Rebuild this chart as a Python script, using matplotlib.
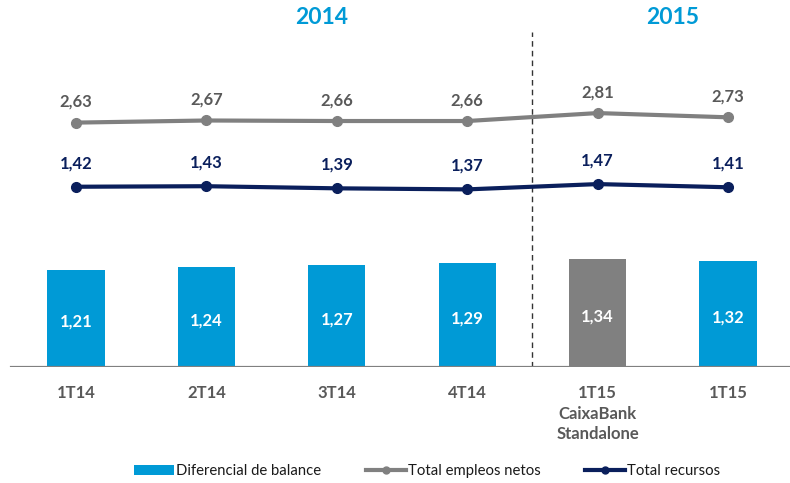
"""
Diferencial de balance vs total empleos netos / total recursos (2014-2015).
Produces: out.png
"""
import matplotlib.pyplot as plt
from matplotlib.patches import Patch
from matplotlib.lines import Line2D

plt.rcParams["font.family"] = ["Lato", "DejaVu Sans"]

# ── Data ─────────────────────────────────────────────────────────────────────
quarters   = ["1T14", "2T14", "3T14", "4T14", "1T15\nCaixaBank\nStandalone", "1T15"]
diferencial = [1.21, 1.24, 1.27, 1.29, 1.34, 1.32]
empleos     = [2.63, 2.67, 2.66, 2.66, 2.81, 2.73]
recursos    = [1.42, 1.43, 1.39, 1.37, 1.47, 1.41]
standalone  = 4   # index of the grey "CaixaBank Standalone" bar

C_BLUE  = "#009ad6"
C_GREY  = "#808080"
C_NAVY  = "#0a1f5c"
C_TEXT  = "#595959"

W, H = 790, 483
fig = plt.figure(figsize=(W / 100, H / 100), dpi=100)
fig.patch.set_facecolor("white")

# axis baseline sits at y=367 px (from the top)
ax = fig.add_axes([0, 1 - 367 / H, 1, 367 / H])
x = list(range(len(quarters)))
ax.set_xlim(-76 / 130.4, (W - 76) / 130.4)
ax.set_ylim(0, 367 / 80.5)

bar_colors = [C_GREY if i == standalone else C_BLUE for i in x]
ax.bar(x, diferencial, width=0.44, color=bar_colors, zorder=2)
for xi, v in zip(x, diferencial):
    ax.text(xi, v / 2 - 0.04, f"{v:.2f}".replace(".", ","), ha="center", va="center",
            fontsize=12, fontweight="bold", color="white", zorder=3)

ax.axhline(0, xmin=11 / W, color=C_GREY, linewidth=2.3, zorder=4)
ax.axvline(3.5, ymin=0, ymax=(367 - 32) / 367, color="#333333", linestyle=(0, (4, 3)),
           linewidth=1.0, zorder=1)

for xi, lab in zip(x, quarters):
    ax.annotate(lab, xy=(xi, 0), xytext=(0, -13), textcoords="offset points",
                ha="center", va="top", fontsize=12, fontweight="bold", color=C_TEXT,
                linespacing=1.35)

for s in ax.spines.values():
    s.set_visible(False)
ax.set_xticks([])
ax.set_yticks([])

# ── Lines on their own scale ─────────────────────────────────────────────────
ax2 = ax.twinx()
ax2.set_ylim(-105 / 53, 262 / 53)
ax2.plot(x, empleos, color=C_GREY, linewidth=3, marker="o", markersize=7, zorder=3)
ax2.plot(x, recursos, color=C_NAVY, linewidth=3, marker="o", markersize=7, zorder=3)
for xi, v in zip(x, empleos):
    ax2.annotate(f"{v:.2f}".replace(".", ","), xy=(xi, v), xytext=(0, 15),
                 textcoords="offset points", ha="center", va="center",
                 fontsize=12, fontweight="bold", color=C_TEXT)
for xi, v in zip(x, recursos):
    ax2.annotate(f"{v:.2f}".replace(".", ","), xy=(xi, v), xytext=(0, 17),
                 textcoords="offset points", ha="center", va="center",
                 fontsize=12, fontweight="bold", color=C_NAVY)
for s in ax2.spines.values():
    s.set_visible(False)
ax2.set_yticks([])

# year headers
fig.text(322 / W, 1 - 17 / H, "2014", ha="center", va="center",
         fontsize=16.5, fontweight="bold", color=C_BLUE)
fig.text(673 / W, 1 - 17 / H, "2015", ha="center", va="center",
         fontsize=16.5, fontweight="bold", color=C_BLUE)

handles = [
    Patch(facecolor=C_BLUE),
    Line2D([], [], color=C_GREY, linewidth=3, marker="o", markersize=5),
    Line2D([], [], color=C_NAVY, linewidth=3, marker="o", markersize=5),
]
labels = ["Diferencial de balance", "Total empleos netos", "Total recursos"]
fig.legend(handles, labels, loc="center", bbox_to_anchor=(427 / W, 1 - 471 / H),
           ncol=3, frameon=False, fontsize=10.7, handlelength=2.7, handletextpad=0.12,
           columnspacing=3.0, numpoints=1, labelcolor="#1a1a1a")

plt.savefig("out.png", dpi=100, facecolor="white")
